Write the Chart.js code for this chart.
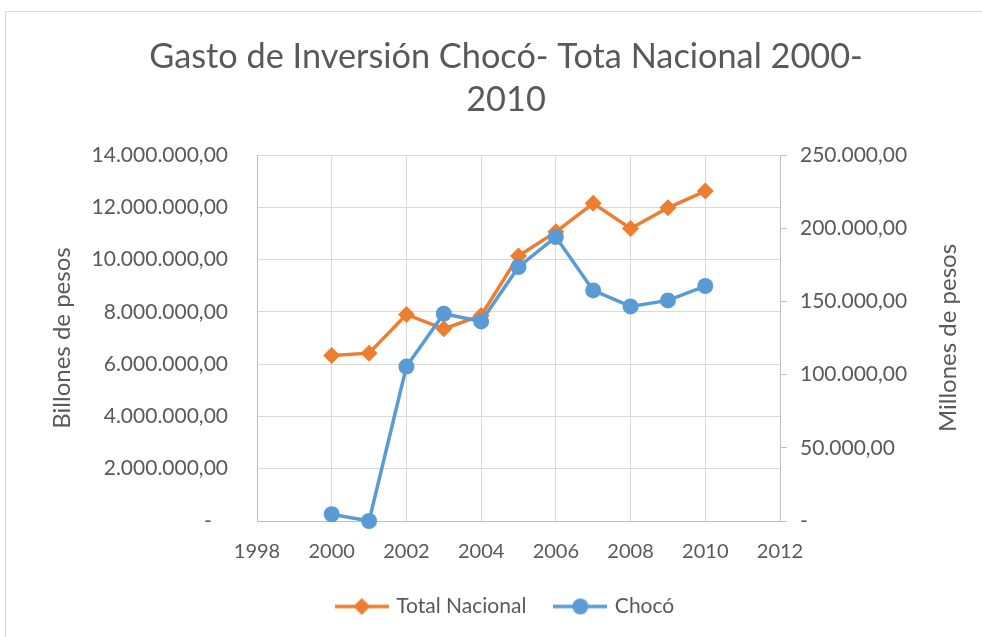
<!DOCTYPE html>
<html>
<head>
<meta charset="utf-8">
<script src="https://cdn.jsdelivr.net/npm/chart.js@4.4.1/dist/chart.umd.min.js"></script>
<style>
  html, body { margin: 0; padding: 0; background: #ffffff; overflow: hidden; }
  #box {
    position: absolute; left: 5px; top: 11px;
    width: 1000px; height: 626px;
    border-left: 1px solid #d9d9d9; border-top: 1px solid #d9d9d9;
  }
</style>
</head>
<body>
<div id="box"><canvas id="chart"></canvas></div>
<script>
const years = [2000, 2001, 2002, 2003, 2004, 2005, 2006, 2007, 2008, 2009, 2010];
const totalNacional = [6330000, 6420000, 7900000, 7350000, 7860000, 10140000, 11060000, 12150000, 11190000, 11980000, 12620000];
const choco = [4600, 0, 105500, 141600, 136300, 173500, 194000, 157500, 146600, 150700, 160500];
const titleLines = ["Gasto de Inversión Chocó- Tota Nacional 2000-", "2010"];

const ORANGE = "#ed7d31";
const BLUE = "#5b9bd5";
const TEXT = "#595959";
const FONT = "Lato, 'Open Sans', sans-serif";

function fmt(v, pad) {
  if (v === 0) return pad ? "-   " : "-";
  const parts = v.toFixed(2).split(".");
  return parts[0].replace(/\B(?=(\d{3})+(?!\d))/g, ".") + "," + parts[1];
}

function legendIcon(color, shape) {
  const c = document.createElement("canvas");
  c.width = 54;
  c.height = 20;
  const ctx = c.getContext("2d");
  ctx.strokeStyle = color;
  ctx.fillStyle = color;
  ctx.lineWidth = 3.5;
  ctx.beginPath();
  ctx.moveTo(0, 10);
  ctx.lineTo(54, 10);
  ctx.stroke();
  ctx.beginPath();
  if (shape === "diamond") {
    ctx.moveTo(27, 1.5);
    ctx.lineTo(35.5, 10);
    ctx.lineTo(27, 18.5);
    ctx.lineTo(18.5, 10);
    ctx.closePath();
  } else {
    ctx.arc(27, 10, 8, 0, Math.PI * 2);
  }
  ctx.fill();
  return c;
}

// right axis title reads bottom-to-top like the left one
const rightTitle = {
  id: "rightTitle",
  afterDraw(chart) {
    const a = chart.chartArea;
    const ctx = chart.ctx;
    ctx.save();
    ctx.translate(a.right + 168, (a.top + a.bottom) / 2);
    ctx.rotate(-Math.PI / 2);
    ctx.fillStyle = TEXT;
    ctx.font = "24px " + FONT;
    ctx.textAlign = "center";
    ctx.textBaseline = "middle";
    ctx.fillText("Millones de pesos", 0, 0);
    ctx.restore();
  }
};

new Chart(document.getElementById("chart"), {
  type: "line",
  data: {
    datasets: [
      {
        label: "Total Nacional",
        data: years.map((y, i) => ({ x: y, y: totalNacional[i] })),
        yAxisID: "y",
        borderColor: ORANGE,
        backgroundColor: ORANGE,
        borderWidth: 3.5,
        pointStyle: "rectRot",
        pointRadius: 8.5,
        pointHoverRadius: 8.5,
        pointBorderWidth: 0,
        tension: 0,
        clip: false,
        order: 1
      },
      {
        label: "Chocó",
        data: years.map((y, i) => ({ x: y, y: choco[i] })),
        yAxisID: "y2",
        borderColor: BLUE,
        backgroundColor: BLUE,
        borderWidth: 3.5,
        pointStyle: "circle",
        pointRadius: 8,
        pointHoverRadius: 8,
        pointBorderWidth: 0,
        tension: 0,
        clip: false,
        order: 0
      }
    ]
  },
  options: {
    responsive: true,
    maintainAspectRatio: false,
    animation: false,
    layout: { padding: { left: 0, right: 0, top: 0, bottom: 11 } },
    plugins: {
      title: {
        display: true,
        text: titleLines,
        color: TEXT,
        font: { family: FONT, size: 34.3, weight: "normal", lineHeight: "43px" },
        padding: { top: 23.5, bottom: 33.5 }
      },
      legend: {
        position: "bottom",
        sort: (a, b) => a.datasetIndex - b.datasetIndex,
        labels: {
          color: TEXT,
          font: { family: FONT, size: 21 },
          usePointStyle: true,
          pointStyleWidth: 48,
          padding: 30,
          generateLabels: chart => chart.data.datasets.map((ds, i) => ({
            text: ds.label,
            datasetIndex: i,
            fontColor: TEXT,
            pointStyle: legendIcon(ds.borderColor, i === 0 ? "diamond" : "circle"),
            hidden: false,
            lineWidth: 0
          }))
        }
      },
      tooltip: { enabled: false }
    },
    scales: {
      x: {
        type: "linear",
        min: 1998,
        max: 2012,
        ticks: {
          stepSize: 2,
          color: TEXT,
          font: { family: FONT, size: 20 },
          padding: 19,
          callback: v => String(v)
        },
        grid: { color: "#d9d9d9", drawTicks: false },
        border: { color: "#bfbfbf" },
        afterFit: s => { s.height = 45; }
      },
      y: {
        position: "left",
        min: 0,
        max: 14000000,
        ticks: {
          stepSize: 2000000,
          color: TEXT,
          font: { family: FONT, size: 21 },
          padding: 29,
          callback: v => fmt(v, true)
        },
        grid: { color: "#d9d9d9", drawTicks: false },
        border: { color: "#bfbfbf" },
        title: {
          display: true,
          text: "Billones de pesos",
          color: TEXT,
          font: { family: FONT, size: 24 },
          padding: { top: 42, bottom: 0 }
        },
        afterFit: s => { s.width = 251; }
      },
      y2: {
        position: "right",
        min: 0,
        max: 250000,
        ticks: {
          stepSize: 50000,
          color: TEXT,
          font: { family: FONT, size: 21 },
          padding: 13,
          callback: v => fmt(v, false)
        },
        grid: { drawOnChartArea: false, color: "#bfbfbf", tickLength: 7 },
        border: { color: "#bfbfbf" },
        afterFit: s => { s.width = 226; }
      }
    }
  },
  plugins: [rightTitle]
});
</script>
</body>
</html>
